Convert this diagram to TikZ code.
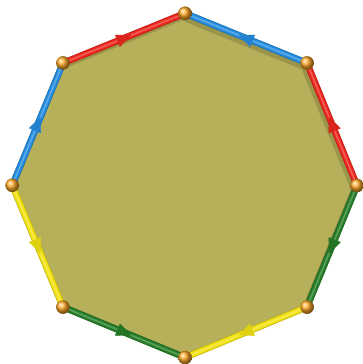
\documentclass[tikz,border=0pt]{standalone}
\usetikzlibrary{arrows.meta,decorations.markings,shadings}
\definecolor{redE}{RGB}{236,40,30}
\definecolor{blueE}{RGB}{36,140,222}
\definecolor{greenE}{RGB}{38,126,40}
\definecolor{yellowE}{RGB}{242,226,18}
\definecolor{olive}{RGB}{183,176,90}
\definecolor{ballO}{RGB}{255,170,40}
\newcommand\tubeedge[3]{%
  \draw[line width=6.6pt,#1!80!black] (#2) -- (#3);
  \draw[line width=5pt,#1] (#2) -- (#3);
  \draw[line width=1.6pt,#1!75!white] (#2) -- (#3);
  \path[decoration={markings,mark=at position 0.56 with {\arrow[color=#1!92!black]{Triangle[length=15pt,width=13pt]}}},decorate] (#2) -- (#3);
}
\tikzset{vball/.style={circle,inner sep=0pt,minimum size=13.5pt,shading=ball,ball color=ballO}}
\begin{document}
\begin{tikzpicture}[x=1pt,y=-1pt]
\useasboundingbox (0,0) rectangle (363,364);
\node[vball] (v0) at (185,13.3) {};
\node[vball] (v1) at (307,63) {};
\node[vball] (v2) at (357,185.5) {};
\node[vball] (v3) at (307,307) {};
\node[vball] (v4) at (185,357.5) {};
\node[vball] (v5) at (63,307) {};
\node[vball] (v6) at (12.3,185.3) {};
\node[vball] (v7) at (63,63) {};
\fill[olive] (v0.center) -- (v1.center) -- (v2.center) -- (v3.center) -- (v4.center) -- (v5.center) -- (v6.center) -- (v7.center) -- cycle;
\begin{scope}
\clip (v0.center) -- (v1.center) -- (v2.center) -- (v3.center) -- (v4.center) -- (v5.center) -- (v6.center) -- (v7.center) -- cycle;
\draw[line width=6pt,black,opacity=0.15] ([shift={(-3,4)}]v0.center) -- ([shift={(-3,4)}]v1.center) -- ([shift={(-3,4)}]v2.center) -- ([shift={(-3,4)}]v3.center) -- ([shift={(-3,4)}]v4.center) -- ([shift={(-3,4)}]v5.center) -- ([shift={(-3,4)}]v6.center) -- ([shift={(-3,4)}]v7.center) -- cycle;
\end{scope}
\tubeedge{redE}{v7.center}{v0.center}
\tubeedge{blueE}{v1.center}{v0.center}
\tubeedge{redE}{v2.center}{v1.center}
\tubeedge{greenE}{v2.center}{v3.center}
\tubeedge{yellowE}{v3.center}{v4.center}
\tubeedge{greenE}{v5.center}{v4.center}
\tubeedge{yellowE}{v6.center}{v5.center}
\tubeedge{blueE}{v6.center}{v7.center}
\foreach \i in {0,...,7} {\node[vball] at (v\i) {};}
\end{tikzpicture}
\end{document}
